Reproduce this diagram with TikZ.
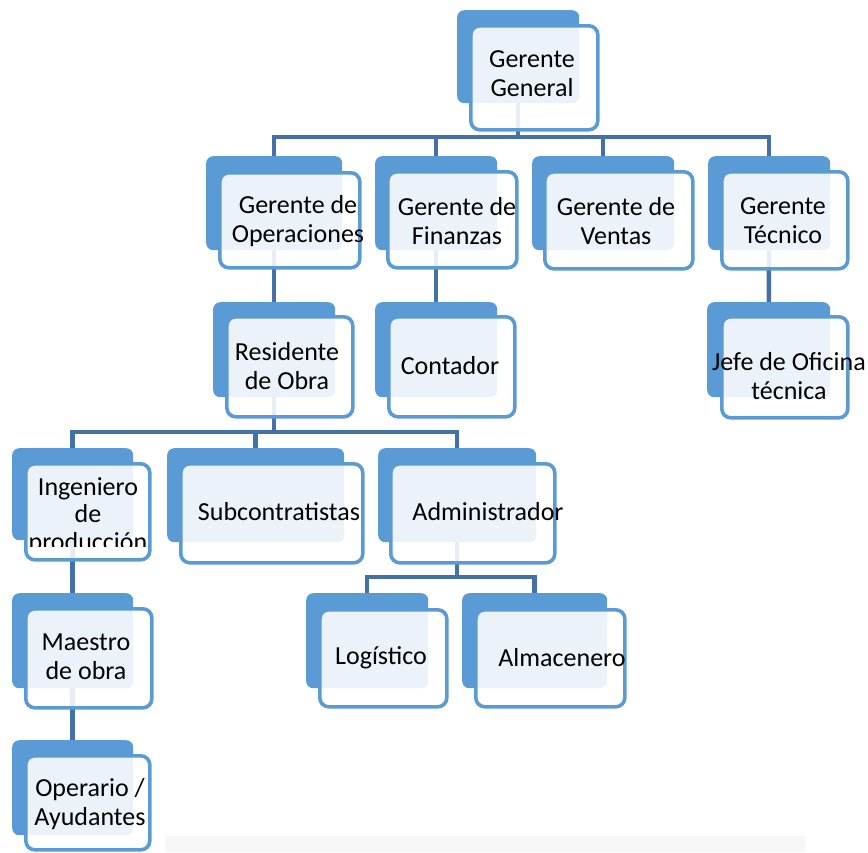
\documentclass[tikz,border=0pt]{standalone}
\usepackage{fontspec}
\setmainfont{Carlito}

\pgfdeclarelayer{background}
\pgfsetlayers{background,main}

\definecolor{boxblue}{RGB}{91,155,213}
\definecolor{linkblue}{RGB}{68,114,166}

\tikzset{
	backbox/.style={fill=boxblue, rounded corners=7pt, anchor=north west, inner sep=0pt},
	frontbox/.style={draw=boxblue, line width=3.6pt, fill=white, fill opacity=0.88,
		draw opacity=1, rounded corners=9pt, anchor=north west, inner sep=0pt},
	boxtext/.style={align=center, font=\fontsize{26}{29}\selectfont, inner sep=0pt},
	link/.style={draw=linkblue, line width=4.5pt}
}

\begin{document}
\begin{tikzpicture}[x=1pt,y=-1pt]
		\useasboundingbox (0,0) rectangle (868,852);
		\fill[gray!6] (165,836) rectangle (805,852); % faint band at the foot

		% level 1
		\node[backbox, minimum width=122, minimum height=93] (gg) at (457,10) {};
		\node[frontbox, minimum width=127, minimum height=104] (gg-f) at (469,24) {};
		\node[boxtext] (gg-t) at (532,74) {Gerente\\General};

		% level 2
		\node[backbox, minimum width=136, minimum height=94] (go) at (206,156) {};
		\node[frontbox, minimum width=140, minimum height=95] (go-f) at (218,171) {};
		\node[boxtext] (go-t) at (298,221) {Gerente de\\Operaciones};

		\node[backbox, minimum width=122, minimum height=94] (gf) at (375,156) {};
		\node[frontbox, minimum width=129, minimum height=96] (gf-f) at (386,170) {};
		\node[boxtext] (gf-t) at (457,221) {Gerente de\\Finanzas};

		\node[backbox, minimum width=142, minimum height=94] (gv) at (532,156) {};
		\node[frontbox, minimum width=148, minimum height=97] (gv-f) at (543,170) {};
		\node[boxtext] (gv-t) at (616,221) {Gerente de\\Ventas};

		\node[backbox, minimum width=122, minimum height=94] (gt) at (708,156) {};
		\node[frontbox, minimum width=126, minimum height=97] (gt-f) at (720,170) {};
		\node[boxtext] (gt-t) at (783,221) {Gerente\\Técnico};

		% level 3
		\node[backbox, minimum width=122, minimum height=95] (ro) at (213,302) {};
		\node[frontbox, minimum width=126, minimum height=100] (ro-f) at (225,315) {};
		\node[boxtext] (ro-t) at (287,366) {Residente\\de Obra};

		\node[backbox, minimum width=122, minimum height=95] (co) at (375,302) {};
		\node[frontbox, minimum width=126, minimum height=100] (co-f) at (387,315) {};
		\node[boxtext] (co-t) at (450,366) {Contador};

		\node[backbox, minimum width=123, minimum height=95] (jo) at (707,302) {};
		\node[frontbox, minimum width=126, minimum height=101] (jo-f) at (720,315) {};
		\node[boxtext] (jo-t) at (789,376) {Jefe de Oficina\\técnica};

		% level 4
		\node[backbox, minimum width=121, minimum height=92] (ip) at (12,448) {};
		\node[frontbox, minimum width=124, minimum height=96] (ip-f) at (24,462) {};
		\begin{scope}
			\clip (24,462) rectangle (148,546);
			\node[boxtext, font=\fontsize{26}{27.5}\selectfont] (ip-t) at (88,516) {Ingeniero\\de\\producción};
		\end{scope}

		\node[backbox, minimum width=177, minimum height=94] (sc) at (167,448) {};
		\node[frontbox, minimum width=182, minimum height=99] (sc-f) at (179,462) {};
		\node[boxtext] (sc-t) at (279,512) {Subcontratistas};

		\node[backbox, minimum width=158, minimum height=94] (ad) at (378,448) {};
		\node[frontbox, minimum width=164, minimum height=99] (ad-f) at (389,462) {};
		\node[boxtext] (ad-t) at (488,512) {Administrador};

		% level 5
		\node[backbox, minimum width=121, minimum height=95] (mo) at (12,593) {};
		\node[frontbox, minimum width=126, minimum height=99] (mo-f) at (24,607) {};
		\node[boxtext] (mo-t) at (86,657) {Maestro\\de obra};

		\node[backbox, minimum width=122, minimum height=95] (lo) at (306,593) {};
		\node[frontbox, minimum width=127, minimum height=97] (lo-f) at (318,608) {};
		\node[boxtext] (lo-t) at (381,658) {Logístico};

		\node[backbox, minimum width=145, minimum height=95] (al) at (462,593) {};
		\node[frontbox, minimum width=149, minimum height=97] (al-f) at (474,608) {};
		\node[boxtext] (al-t) at (562,658) {Almacenero};

		% level 6
		\node[backbox, minimum width=121, minimum height=95] (op) at (12,740) {};
		\node[frontbox, minimum width=124, minimum height=94] (op-f) at (24,754) {};
		\node[boxtext] (op-t) at (90,804) {Operario /\\Ayudantes};

		% connectors behind the boxes
		\coordinate (bus1) at (0,137);
		\coordinate (bus2) at (0,432);
		\coordinate (bus3) at (0,577);
		\begin{pgfonlayer}{background}
			\foreach \c in {go,gf,gv,gt}
				\draw[link] (gg) -- (gg |- bus1) -| (\c);
			\foreach \c in {ip,sc,ad}
				\draw[link] (ro) -- (ro |- bus2) -| (\c);
			\foreach \c in {lo,al}
				\draw[link] (ad) -- (ad |- bus3) -| (\c);
			\draw[link] (go) -- (ro);
			\draw[link] (gf) -- (co);
			\draw[link] (gt) -- (jo);
			\draw[link] (ip) -- (mo);
			\draw[link] (mo) -- (op);
		\end{pgfonlayer}
	\end{tikzpicture}
\end{document}
